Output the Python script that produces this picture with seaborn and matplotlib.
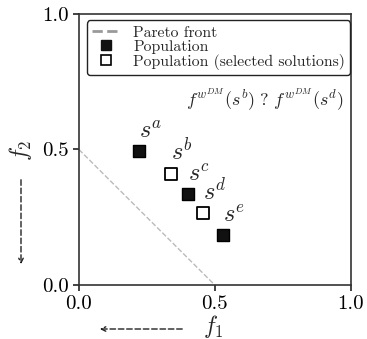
import numpy as np
import pandas as pd
import matplotlib
matplotlib.use("Agg")
import matplotlib.pyplot as plt
import seaborn as sns
from matplotlib.lines import Line2D

# Data
front_f1 = [0.0, 0.5]
front_f2 = [0.5, 0.0]
pop_labels = ["a", "b", "c", "d", "e"]
pop_f1 = [0.22, 0.34, 0.40, 0.455, 0.53]
pop_f2 = [0.495, 0.41, 0.335, 0.265, 0.185]
pop_selected = [False, True, False, True, False]
tick_vals = [0.0, 0.5, 1.0]
tick_labels = ["0.0", "0.5", "1.0"]

sns.set_style("ticks")
plt.rcParams["font.family"] = ["serif"]
plt.rcParams["font.serif"] = ["cmr10", "DejaVu Serif"]
plt.rcParams["mathtext.fontset"] = "cm"
plt.rcParams["axes.formatter.use_mathtext"] = True

fig = plt.figure(figsize=(3.67, 3.39), dpi=100)
ax = fig.add_axes([0.215, 0.159, 0.741, 0.800])

front = pd.DataFrame({"f1": front_f1, "f2": front_f2})
sns.lineplot(data=front, x="f1", y="f2", ax=ax, color="#bbbbbb", linestyle="--",
             linewidth=1.0, sort=False)

pop = pd.DataFrame({"f1": pop_f1, "f2": pop_f2, "sel": pop_selected, "lab": pop_labels})
filled = pop[~pop["sel"]]
opened = pop[pop["sel"]]
sns.scatterplot(data=filled, x="f1", y="f2", ax=ax, marker="s", s=85,
                color="#111111", edgecolor="black", linewidth=1.0, zorder=3)
sns.scatterplot(data=opened, x="f1", y="f2", ax=ax, marker="s", s=65,
                facecolor="white", edgecolor="black", linewidth=1.3, zorder=3)

for x, y, lab in zip(pop_f1, pop_f2, pop_labels):
    ax.text(x + 0.0, y + 0.05, f"$s^{lab}$", fontsize=17.5, ha="left", va="baseline")

ax.text(0.975, 0.685, r"$f^{w^{DM}}(s^b)\ ?\ f^{w^{DM}}(s^d)$", fontsize=13,
        ha="right", va="center")

ax.set_xlim(0, 1)
ax.set_ylim(0, 1)
ax.set_xticks(tick_vals)
ax.set_xticklabels(tick_labels)
ax.set_yticks(tick_vals)
ax.set_yticklabels(tick_labels)
ax.tick_params(labelsize=15, length=4, width=1.2, colors="#222222", labelcolor="black")
ax.set_xlabel("")
ax.set_ylabel("")
for sp in ax.spines.values():
    sp.set_visible(True)
    sp.set_color("#333333")
    sp.set_linewidth(1.2)

handles = [
    Line2D([], [], color="#999999", linestyle="--", linewidth=2),
    Line2D([], [], marker="s", color="#111111", linestyle="none", markersize=7),
    Line2D([], [], marker="s", markerfacecolor="white", markeredgecolor="black",
           linestyle="none", markersize=7, markeredgewidth=1.2),
]
leg = ax.legend(handles, ["Pareto front", "Population", "Population (selected solutions)"],
                loc="upper left", bbox_to_anchor=(0.0, 1.005), fontsize=11.3,
                frameon=True, fancybox=True, edgecolor="#222222", framealpha=1,
                handlelength=1.8, labelspacing=0.0, borderpad=0.35, handletextpad=0.8)
leg.get_frame().set_linewidth(1.0)

# axis labels and direction arrows (figure coordinates)
fig.text(213 / 367, 1 - 327 / 339, r"$f_1$", fontsize=17, ha="center", va="center")
fig.text(20 / 367, 1 - 150 / 339, r"$f_2$", fontsize=17, ha="center", va="center", rotation=90)
fig.add_artist(matplotlib.patches.FancyArrowPatch(
    (185 / 367, 1 - 329 / 339), (97 / 367, 1 - 329 / 339), transform=fig.transFigure,
    arrowstyle="->", mutation_scale=8, linestyle=(0, (4, 2)), linewidth=1.0, color="#222222"))
fig.add_artist(matplotlib.patches.FancyArrowPatch(
    (21 / 367, 1 - 177 / 339), (21 / 367, 1 - 267 / 339), transform=fig.transFigure,
    arrowstyle="->", mutation_scale=8, linestyle=(0, (4, 2)), linewidth=1.0, color="#222222"))

fig.savefig("out.png", dpi=100)
